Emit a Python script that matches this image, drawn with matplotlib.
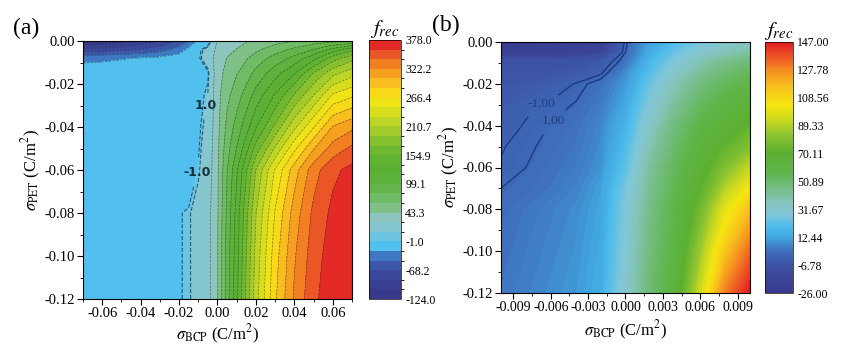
import numpy as np
import matplotlib
matplotlib.use("Agg")
import matplotlib.pyplot as plt
from matplotlib.colors import ListedColormap, BoundaryNorm, LinearSegmentedColormap, Normalize
from matplotlib.cm import ScalarMappable
from matplotlib.ticker import FormatStrFormatter, MultipleLocator

plt.rcParams['font.family'] = ['Liberation Serif', 'DejaVu Serif']
plt.rcParams['mathtext.fontset'] = 'stix'

# ---------------- Panel (a) data: f_rec on (sigma_BCP, sigma_PET) grid ----------------
a_x = [-0.07, -0.06, -0.05, -0.04, -0.03, -0.02, -0.015, -0.01, -0.005, 0.0,
       0.005, 0.01, 0.015, 0.02, 0.03, 0.04, 0.05, 0.06, 0.07]
a_y = [0.0, -0.004, -0.008, -0.015, -0.025, -0.04, -0.05, -0.06, -0.08, -0.10, -0.12]
a_z = [
    [-124, -120, -112, -100, -86, -65, -45, -18, -10, 24, 31, 37, 42, 46, 55, 62, 70, 75, 80],
    [-80, -78, -73, -66, -56, -35, -18, -4, 6, 28, 38, 44, 50, 58, 72, 85, 100, 125, 150],
    [-30, -28, -25, -22, -18, -13, -10, -3, 10, 32, 44, 52, 60, 70, 88, 105, 130, 165, 185],
    [-10, -10, -10, -10, -10, -10, -10, -8, -3, 35, 50, 61, 72, 86, 110, 135, 175, 205, 222],
    [-10, -10, -10, -10, -10, -10, -9, -5, 1.5, 37, 57, 72, 88, 106, 138, 175, 210, 250, 262],
    [-10, -10, -10, -10, -10, -10, -10, -3, 5, 38, 67, 88, 110, 135, 178, 225, 265, 305, 318],
    [-10, -10, -10, -10, -10, -10, -9, -2, 8, 39, 73, 100, 130, 163, 214, 262, 302, 330, 345],
    [-10, -10, -10, -10, -10, -10, -8, -0.5, 10, 40, 80, 115, 153, 193, 250, 295, 333, 355, 365],
    [-10, -10, -10, -10, -10, -1.5, 0, 5, 15, 41, 85, 125, 168, 210, 268, 312, 345, 364, 373],
    [-10, -10, -10, -10, -10, -1.5, 0, 5, 15, 42, 88, 129, 174, 217, 277, 320, 351, 369, 376],
    [-10, -10, -10, -10, -10, -1.5, 0, 5, 15, 42, 90, 132, 178, 222, 282, 325, 355, 372, 378],
]
a_levels = [-124.0, -105.4, -86.8, -68.2, -45.8, -23.4, -1.0, 1.0, 22.15, 43.3,
            61.9, 80.5, 99.1, 117.7, 136.3, 154.9, 173.5, 192.1, 210.7, 229.3,
            247.9, 266.4, 285.0, 303.6, 322.2, 340.8, 359.4, 378.0]
a_cbar_ticks = [-124.0, -68.2, -1.0, 43.3, 99.1, 154.9, 210.7, 266.4, 322.2, 378.0]
a_cbar_labels = ['-124.0', '-68.2', '-1.0', '43.3', '99.1', '154.9', '210.7', '266.4', '322.2', '378.0']
a_xticks = [-0.06, -0.04, -0.02, 0.00, 0.02, 0.04, 0.06]
a_yticks = [0.00, -0.02, -0.04, -0.06, -0.08, -0.10, -0.12]

# ---------------- Panel (b) data ----------------
b_x = [-0.010, -0.008, -0.006, -0.004, -0.002, 0.0, 0.002, 0.004, 0.006, 0.008, 0.010]
b_y = [0.0, -0.005, -0.009, -0.015, -0.02, -0.03, -0.04, -0.05, -0.06, -0.07, -0.08, -0.10, -0.12]
b_z = [
    [-26, -25, -24, -23, -19, 0, 12, 20, 26, 31, 35],
    [-20, -20, -19, -18, -15, 1, 14, 24, 31, 37, 41],
    [-8, -8, -8, -7, -5, 3, 17, 28, 37, 44, 48],
    [-6, -6, -5.5, -4.5, -1.5, 8, 21, 33, 43, 50, 54],
    [-5, -5, -3, -0.8, 3, 10, 24, 37, 47, 54, 58],
    [-4, -1.5, -0.5, 1.3, 5, 13, 29, 43, 53, 60, 65],
    [-2, -0.8, 1.2, 3, 7, 16, 34, 48, 58, 66, 72],
    [-1.3, 0.3, 2, 4, 8, 19, 38, 51, 62, 72, 80],
    [-0.7, 1, 3, 5, 9, 22, 42, 54, 66, 80, 92],
    [1, 2, 4, 6.5, 11, 26, 44, 56, 70, 89, 104],
    [2, 4, 6, 8, 12, 28, 46, 58, 76, 99, 116],
    [3, 5, 7, 9, 13, 30, 48, 60, 85, 114, 134],
    [4, 6, 8, 10, 14, 32, 50, 63, 94, 130, 147],
]
b_vmin, b_vmax = -26.0, 147.0
b_cbar_ticks = [-26.00, -6.78, 12.44, 31.67, 50.89, 70.11, 89.33, 108.56, 127.78, 147.00]
b_xticks = [-0.009, -0.006, -0.003, 0.000, 0.003, 0.006, 0.009]
b_yticks = [0.00, -0.02, -0.04, -0.06, -0.08, -0.10, -0.12]

# ---------------- colours ----------------
a_band_colors = ['#39398c', '#3a3f93', '#3b489c', '#3c56a8', '#3f78c2', '#52c0ee',
                 '#6cc3e2', '#86c6d0', '#8ec5bf', '#7fc089', '#70bb66', '#64b64c',
                 '#5db23d', '#5ab035', '#5fb232', '#6db731', '#86c02f', '#a2cb2b',
                 '#bdd526', '#d8de1e', '#eee317', '#f8d91a', '#f8bd1e', '#f6a020',
                 '#f27f22', '#eb5626', '#e32a27']
b_nodes = [(0.00, '#393b8f'), (0.06, '#3a4597'), (0.12, '#3d56a8'), (0.17, '#3f72bf'),
           (0.22, '#41a6e0'), (0.26, '#4cbcec'), (0.31, '#7fc6da'), (0.36, '#85c5bd'),
           (0.42, '#73bd83'), (0.48, '#5fb54a'), (0.56, '#5cb030'), (0.63, '#8dc431'),
           (0.69, '#cbd920'), (0.75, '#f5e610'), (0.82, '#f8c11c'), (0.89, '#f58b22'),
           (0.95, '#ec4f25'), (1.00, '#e21b23')]
b_cmap = LinearSegmentedColormap.from_list('frec', b_nodes)

fig = plt.figure(figsize=(8.53, 3.57), dpi=100)
W, H = 853.0, 357.0

def px_axes(l, t, r, b):
    return fig.add_axes([l / W, 1 - b / H, (r - l) / W, (b - t) / H])

def style_axes(ax):
    ax.tick_params(axis='both', which='major', direction='out', length=4, width=0.8,
                   labelsize=10.5, pad=2)
    ax.tick_params(axis='both', which='minor', direction='out', length=2, width=0.6)
    for s in ax.spines.values():
        s.set_linewidth(0.8)

def labelled_line(ax, X, Y, Z, level, text, pos, lkw, tkw):
    cs = ax.contour(X, Y, Z, levels=[level], **lkw)
    labels = ax.clabel(cs, fmt={level: text}, inline=True, manual=[pos],
                       fontsize=tkw.pop('fontsize', 9))
    for t in labels:
        t.set_rotation(0)
        for k, v in tkw.items():
            getattr(t, 'set_' + k)(v)
    return cs

# ---------------- Panel (a) ----------------
axa = px_axes(83, 41, 352, 299)
Xa, Ya = np.meshgrid(a_x, a_y)
Za = np.array(a_z, dtype=float)
cmap_a = ListedColormap(a_band_colors)
norm_a = BoundaryNorm(a_levels, ncolors=len(a_band_colors))
csa = axa.contourf(Xa, Ya, Za, levels=a_levels, cmap=cmap_a, norm=norm_a)
axa.contour(Xa, Ya, Za, levels=[l for l in a_levels if l not in (-1.0, 1.0)],
            colors='#1c2a1c', linewidths=0.5, linestyles='--', alpha=0.55)
a_lkw = dict(colors='#1d5b80', linewidths=0.8, linestyles='--')
labelled_line(axa, Xa, Ya, Za, 1.0, '1.0', (-0.0065, -0.030), a_lkw,
              dict(fontsize=9, fontweight='bold', family='DejaVu Sans', color='#14303c'))
labelled_line(axa, Xa, Ya, Za, -1.0, '-1.0', (-0.0105, -0.061), a_lkw,
              dict(fontsize=9, fontweight='bold', family='DejaVu Sans', color='#14303c'))
axa.set_xlim(-0.07, 0.07)
axa.set_ylim(-0.12, 0.0)
axa.set_xticks(a_xticks)
axa.set_yticks(a_yticks)
axa.xaxis.set_minor_locator(MultipleLocator(0.01))
axa.yaxis.set_minor_locator(MultipleLocator(0.01))
axa.xaxis.set_major_formatter(FormatStrFormatter('%.2f'))
axa.yaxis.set_major_formatter(FormatStrFormatter('%.2f'))
style_axes(axa)
axa.set_xlabel(r'$\sigma_{\rm BCP}$ (C/m$^2$)', fontsize=12, labelpad=2)
axa.set_ylabel(r'$\sigma_{\rm PET}$ (C/m$^2$)', fontsize=12, labelpad=1)
fig.text(13 / W, 1 - 28 / H, '(a)', fontsize=17, va='center', ha='left')

caxa = px_axes(369, 40, 401, 299)
cba = fig.colorbar(csa, cax=caxa)
cba.set_ticks(a_cbar_ticks)
cba.set_ticklabels(a_cbar_labels)
cba.ax.tick_params(length=0, labelsize=8.5, pad=3)
cba.outline.set_linewidth(0.5)
caxa.set_title(r'$f_{rec}$', fontsize=15, pad=3)

# ---------------- Panel (b) ----------------
axb = px_axes(501, 42, 750, 293)
Xb, Yb = np.meshgrid(b_x, b_y)
Zb = np.array(b_z, dtype=float)
norm_b = Normalize(vmin=b_vmin, vmax=b_vmax)
axb.contourf(Xb, Yb, Zb, levels=np.linspace(b_vmin, b_vmax, 140), cmap=b_cmap, norm=norm_b)
b_lkw = dict(colors='#1d3f80', linewidths=1.1, linestyles='solid')
labelled_line(axb, Xb, Yb, Zb, -1.0, '-1.00', (-0.0069, -0.027), b_lkw,
              dict(fontsize=9.5, color='#1d3f80'))
labelled_line(axb, Xb, Yb, Zb, 1.0, '1.00', (-0.0055, -0.040), b_lkw,
              dict(fontsize=9.5, color='#1d3f80'))
axb.set_xlim(-0.0100, 0.0100)
axb.set_ylim(-0.12, 0.0)
axb.set_xticks(b_xticks)
axb.set_yticks(b_yticks)
axb.xaxis.set_minor_locator(MultipleLocator(0.0015))
axb.yaxis.set_minor_locator(MultipleLocator(0.01))
axb.xaxis.set_major_formatter(FormatStrFormatter('%.3f'))
axb.yaxis.set_major_formatter(FormatStrFormatter('%.2f'))
style_axes(axb)
axb.tick_params(axis='x', labelsize=10)
axb.set_xlabel(r'$\sigma_{\rm BCP}$ (C/m$^2$)', fontsize=12, labelpad=3)
axb.set_ylabel(r'$\sigma_{\rm PET}$ (C/m$^2$)', fontsize=12, labelpad=1)
fig.text(432 / W, 1 - 25 / H, '(b)', fontsize=17, va='center', ha='left')

caxb = px_axes(765, 42, 793, 293)
cbb = fig.colorbar(ScalarMappable(norm=norm_b, cmap=b_cmap), cax=caxb)
cbb.set_ticks(b_cbar_ticks)
cbb.set_ticklabels(['%.2f' % v for v in b_cbar_ticks])
cbb.ax.tick_params(length=0, labelsize=8.5, pad=3)
cbb.outline.set_linewidth(0.5)
caxb.set_title(r'$f_{rec}$', fontsize=15, pad=3)

fig.savefig('out.png', dpi=100)
